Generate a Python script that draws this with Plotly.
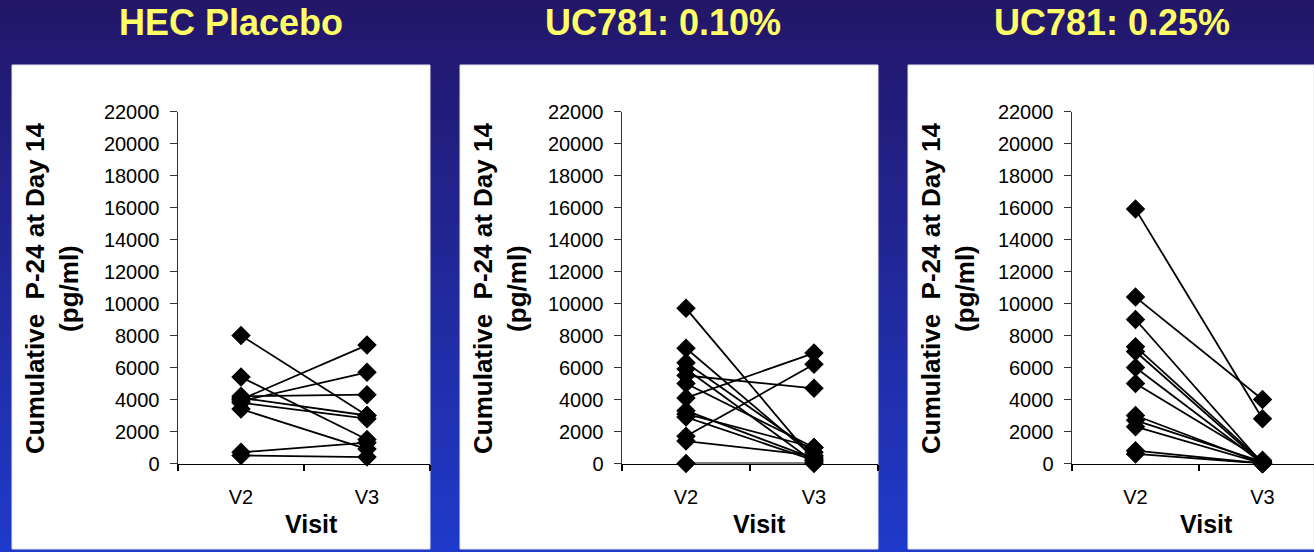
import plotly.graph_objects as go

# ---------------- data ----------------
visits = ["V2", "V3"]
panel_titles = ["HEC Placebo", "UC781: 0.10%", "UC781: 0.25%"]
y_title = "Cumulative  P-24 at Day 14<br>(pg/ml)"
x_title = "Visit"
y_ticks = [0, 2000, 4000, 6000, 8000, 10000, 12000, 14000, 16000, 18000, 20000, 22000]

hec_v2 = [8000, 5400, 4000, 3900, 4200, 4100, 3800, 3400, 700, 500]
hec_v3 = [3000, 1500, 7400, 5700, 4300, 3000, 2800, 900, 1300, 400]

uc010_v2 = [9700, 7200, 6300, 5900, 5500, 5000, 4100, 3300, 3100, 2900, 1700, 1400, 0]
uc010_v3 = [200, 400, 700, 100, 4700, 1000, 6900, 300, 1000, 200, 6200, 500, 0]

uc025_v2 = [15900, 10400, 9000, 7300, 7000, 6000, 5000, 3000, 2700, 2300, 800, 600]
uc025_v3 = [2800, 4000, 0, 100, 0, 0, 200, 0, 100, 0, 0, 0]

# ---------------- layout helpers ----------------
W, H = 1314, 552
FONT = "Arial, Liberation Sans, Helvetica, sans-serif"


def px(x):
    return x / W


def py(y):
    return 1 - y / H


panels = [(hec_v2, hec_v3), (uc010_v2, uc010_v3), (uc025_v2, uc025_v3)]
axis_left = [178, 622, 1072]
axis_right = [430, 878, 1314]
cat_width = [126, 128, 127]
panel_box = [(12, 430), (460, 878), (908, 1314)]
title_x = [231, 663, 1112]
ytitle_x = [52, 500, 948]
visit_x = [311, 759, 1206]

fig = go.Figure()

for p, (v2, v3) in enumerate(panels):
    xa = "x" if p == 0 else f"x{p + 1}"
    ya = "y" if p == 0 else f"y{p + 1}"
    for a, b in zip(v2, v3):
        fig.add_trace(go.Scatter(
            x=visits, y=[a, b], xaxis=xa, yaxis=ya,
            mode="lines+markers",
            line=dict(color="black", width=1.8),
            marker=dict(symbol="diamond", size=15, color="black"),
            cliponaxis=False, hoverinfo="skip", showlegend=False,
        ))

layout = dict(
    width=W, height=H,
    margin=dict(l=0, r=0, t=0, b=0, pad=0, autoexpand=False),
    paper_bgcolor="#231669",
    plot_bgcolor="rgba(0,0,0,0)",
    showlegend=False,
    font=dict(family=FONT, color="black"),
)

shapes = []
# background gradient (decoration)
top = (35, 22, 105)
bot = (31, 58, 202)
nb = 69
for i in range(nb):
    t = i / (nb - 1)
    c = tuple(round(top[k] + (bot[k] - top[k]) * t) for k in range(3))
    shapes.append(dict(type="rect", xref="paper", yref="paper", layer="below",
                       x0=0, x1=1, y0=py((i + 1) * H / nb + 0.5), y1=py(i * H / nb),
                       fillcolor=f"rgb{c}", line=dict(width=0)))
# white panels
for (l, r) in panel_box:
    shapes.append(dict(type="rect", xref="paper", yref="paper", layer="below",
                       x0=px(l), x1=px(r), y0=py(549), y1=py(65),
                       fillcolor="white", line=dict(color="#e8e6f4", width=1)))

annotations = []
for p in range(3):
    xa = "x" if p == 0 else f"x{p + 1}"
    ya = "y" if p == 0 else f"y{p + 1}"
    xkey = "xaxis" if p == 0 else f"xaxis{p + 1}"
    ykey = "yaxis" if p == 0 else f"yaxis{p + 1}"
    left, right = axis_left[p], axis_right[p]
    ncat = (right - left) / cat_width[p]
    layout[xkey] = dict(
        domain=[px(left), px(right)], anchor=ya, automargin=False,
        type="category", categoryorder="array", categoryarray=visits,
        range=[-0.5, -0.5 + ncat],
        tickson="boundaries", ticks="outside", ticklen=6, tickwidth=1.2, tickcolor="black",
        showline=True, linecolor="black", linewidth=1.5,
        showgrid=False, zeroline=False,
        tickfont=dict(family=FONT, size=20, color="black"),
        ticklabelstandoff=15, fixedrange=True,
    )
    layout[ykey] = dict(
        domain=[py(463.5), py(111.5)], anchor=xa, automargin=False,
        range=[0, 22000], tickvals=y_ticks, tickformat="d",
        ticks="outside", ticklen=7, tickwidth=1.2, tickcolor="#333333",
        showline=True, linecolor="#333333", linewidth=1.5,
        showgrid=False, zeroline=False,
        tickfont=dict(family=FONT, size=20, color="black"),
        ticklabelstandoff=6, fixedrange=True,
    )
    annotations.append(dict(
        text=f"<b>{panel_titles[p]}</b>", xref="paper", yref="paper",
        x=px(title_x[p]), y=py(23), xanchor="center", yanchor="middle",
        showarrow=False, font=dict(family=FONT, size=36, color="#FFFF66"),
    ))
    annotations.append(dict(
        text=f"<b>{y_title}</b>", xref="paper", yref="paper",
        x=px(ytitle_x[p]), y=py(289), xanchor="center", yanchor="middle",
        textangle=-90, showarrow=False,
        font=dict(family=FONT, size=26, color="black"),
    ))
    annotations.append(dict(
        text=f"<b>{x_title}</b>", xref="paper", yref="paper",
        x=px(visit_x[p]), y=py(524), xanchor="center", yanchor="middle",
        showarrow=False, font=dict(family=FONT, size=25, color="black"),
    ))

layout["shapes"] = shapes
layout["annotations"] = annotations
fig.update_layout(**layout)

fig.write_html(
    "out.html",
    config={"displayModeBar": False, "staticPlot": True},
    post_script="document.body.style.margin='0';document.body.style.overflow='hidden';",
)
